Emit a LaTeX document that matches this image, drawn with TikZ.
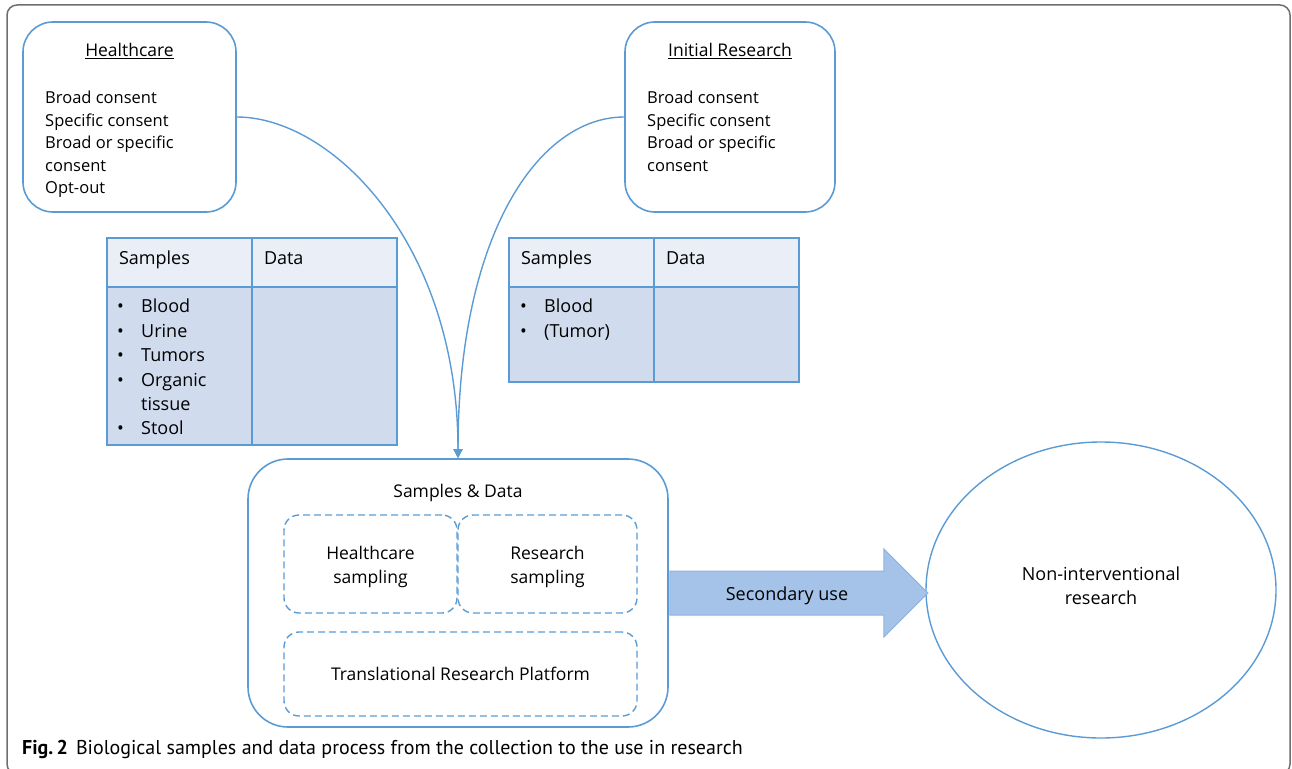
\documentclass[tikz,border=0pt]{standalone}
\usepackage{fontspec}
\setmainfont{Open Sans}
\newfontfamily\capfont{PT Sans}
\usetikzlibrary{shapes.geometric,arrows.meta,calc}
\definecolor{lineblue}{HTML}{5B9BD5}
\definecolor{headfill}{HTML}{E9EEF7}
\definecolor{bodyfill}{HTML}{D0DBEE}
\definecolor{arrowfill}{HTML}{A5C3E8}
\definecolor{arrowline}{HTML}{8DB4E2}
\definecolor{framegray}{HTML}{6E6E6E}
\newcommand{\itm}[1]{\makebox[24pt][l]{\textbullet}#1}
\newcommand{\nobul}[1]{\makebox[24pt][l]{}#1}
\begin{document}
\begin{tikzpicture}[x=1pt,y=-1pt,
  roundbox/.style={draw=lineblue, line width=1.6pt, rounded corners=30pt, inner sep=0pt},
  dashbox/.style={draw=lineblue, line width=1.4pt, dash pattern=on 7pt off 4pt, rounded corners=15pt, align=center, inner sep=0pt, font=\fontsize{17.5}{24.5}\selectfont},
  boxtext/.style={align=center, inner sep=0pt, font=\fontsize{17.5}{24.5}\selectfont},
  hcell/.style={draw=lineblue, line width=1.8pt, fill=headfill, minimum width=145pt, minimum height=49pt, text width=121pt, text height=13pt, text depth=10pt, align=left, inner sep=0pt, font=\fontsize{18}{24}\selectfont},
  bcell/.style={hcell, fill=bodyfill},
  lst/.style={anchor=north west, align=left, inner sep=0pt, font=\fontsize{18}{24.4}\selectfont},
  consent/.style={anchor=north west, align=left, inner sep=0pt, font=\fontsize{16.5}{22.5}\selectfont},
  ttl/.style={inner sep=0pt, font=\fontsize{17.5}{21}\selectfont},
  link/.style={draw=lineblue, line width=1.4pt, -{Triangle[length=9pt,width=9pt]}}]
\useasboundingbox (0,0) rectangle (1292,768);
\draw[framegray, line width=1.5pt, rounded corners=10pt] (7,5) rectangle (1290,774);
\node[roundbox, minimum width=213pt, minimum height=190pt] (hc) at (129.5,117){};
\node[ttl] (hct) at (129.5,51){\underline{Healthcare}};
\node[consent] (hcl) at (45,91){Broad consent\\Specific consent\\Broad or specific\\consent\\Opt-out};
\node[roundbox, minimum width=210pt, minimum height=190pt] (ir) at (730,117){};
\node[ttl] (irt) at (730,51){\underline{Initial Research}};
\node[consent] (irl) at (647,91){Broad consent\\Specific consent\\Broad or specific\\consent};
\node[hcell] (ls) at (179.5,262.5){Samples};
\node[hcell] (ld) at (324.5,262.5){Data};
\node[bcell, minimum height=158pt] (lsb) at (179.5,366){};
\node[bcell, minimum height=158pt] (ldb) at (324.5,366){};
\node[lst] (lsl) at (117,299){\itm{Blood}\\\itm{Urine}\\\itm{Tumors}\\\itm{Organic}\\\nobul{tissue}\\\itm{Stool}};
\node[hcell] (rs) at (581.5,262.5){Samples};
\node[hcell] (rd) at (726.5,262.5){Data};
\node[bcell, minimum height=95pt] (rsb) at (581.5,334.5){};
\node[bcell, minimum height=95pt] (rdb) at (726.5,334.5){};
\node[lst] (rsl) at (520,299){\itm{Blood}\\\itm{(Tumor)}};
\node[roundbox, rounded corners=40pt, minimum width=420pt, minimum height=268pt] (sd) at (458,593){};
\node[ttl] (sdt) at (458,493){Samples \& Data};
\node[dashbox, minimum width=173pt, minimum height=98pt] (hs) at (370.5,564){};
\node[boxtext] (hst) at (370.5,567){Healthcare\\sampling};
\node[dashbox, minimum width=179pt, minimum height=98pt] (rsp) at (547.5,564){};
\node[boxtext] (rst) at (547.5,567){Research\\sampling};
\node[dashbox, minimum width=353pt, minimum height=84pt] (trp) at (460.5,674){Translational Research Platform};
\node[ellipse, draw=lineblue, line width=1.4pt, minimum width=350pt, minimum height=296pt, inner sep=0pt] (nir) at (1101,590){};
\node[inner sep=0pt, align=center, font=\fontsize{18}{24}\selectfont] (nirt) at (1101,586){Non-interventional\\research};
\draw[link] (hc.east) .. controls +(95,0) and +(0,-215) .. (sd.north);
\draw[link] (ir.west) .. controls +(-85,0) and +(0,-225) .. (sd.north);
\draw[fill=arrowfill, draw=arrowline, line width=1pt] ($(sd.east)+(1,-22)$) -- ++(214,0) -- ++(0,-22) -- ++(44,44) -- ++(-44,44) -- ++(0,-22) -- ++(-214,0) -- cycle;
\node[ttl, font=\fontsize{18}{21}\selectfont] (su) at (787,596){Secondary use};
\node[anchor=west, inner sep=0pt, font=\capfont\fontsize{20}{24}\selectfont] (cap) at (22,749){\textbf{Fig.\,2}\hspace{8pt}Biological samples and data process from the collection to the use in research};
\end{tikzpicture}
\end{document}
